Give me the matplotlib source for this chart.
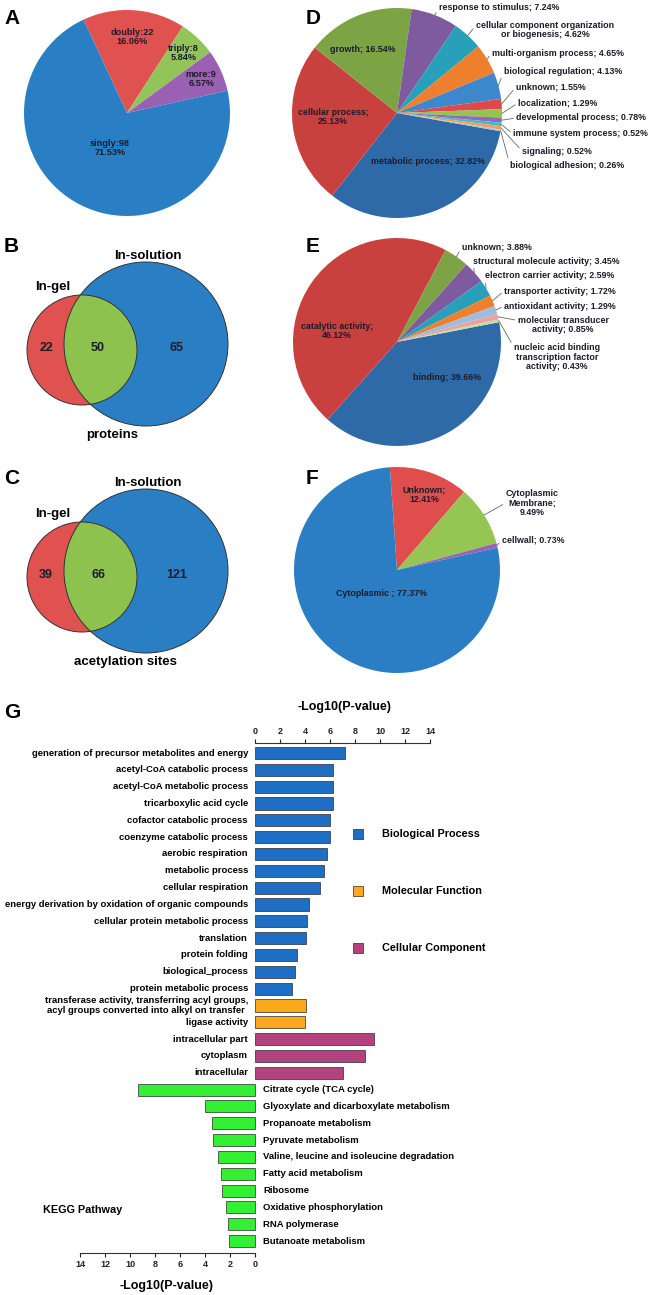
"""Acetylome overview figure: charge-state pie, in-gel vs in-solution Venns,
GO pies (BP / MF / CC) and the GO + KEGG enrichment bar chart."""
import numpy as np
import matplotlib
matplotlib.use("Agg")
import matplotlib.pyplot as plt
from matplotlib.patches import Circle

plt.rcParams["font.family"] = ["Liberation Sans", "DejaVu Sans"]
plt.rcParams["font.weight"] = "bold"

W, H = 650, 1295

# ---- data -----------------------------------------------------------------
A_NAMES = ["doubly", "triply", "more", "singly"]
A_COUNTS = [22, 8, 9, 98]
A_PCT = [16.06, 5.84, 6.57, 71.53]

VENN_PROTEINS = [22, 50, 65]     # in-gel only, both, in-solution only
VENN_SITES = [39, 66, 121]

D_NAMES = ["metabolic process", "cellular process", "growth", "response to stimulus",
           "cellular component organization\nor biogenesis", "multi-organism process",
           "biological regulation", "unknown", "localization", "developmental process",
           "immune system process", "signaling", "biological adhesion"]
D_PCT = [32.82, 25.13, 16.54, 7.24, 4.62, 4.65, 4.13, 1.55, 1.29, 0.78, 0.52, 0.52, 0.26]

E_NAMES = ["binding", "catalytic activity", "unknown", "structural molecule activity",
           "electron carrier activity", "transporter activity", "antioxidant activity",
           "molecular transducer\nactivity",
           "nucleic acid binding\ntranscription factor\nactivity"]
E_PCT = [39.66, 46.12, 3.88, 3.45, 2.59, 1.72, 1.29, 0.85, 0.43]

F_NAMES = ["Unknown", "Cytoplasmic\nMembrane", "cellwall", "Cytoplasmic "]
F_PCT = [12.41, 9.49, 0.73, 77.37]

GO_TERMS = ["generation of precursor metabolites and energy", "acetyl-CoA catabolic process",
            "acetyl-CoA metabolic process", "tricarboxylic acid cycle",
            "cofactor catabolic process", "coenzyme catabolic process", "aerobic respiration",
            "metabolic process", "cellular respiration",
            "energy derivation by oxidation of organic compounds",
            "cellular protein metabolic process", "translation", "protein folding",
            "biological_process", "protein metabolic process",
            "transferase activity, transferring acyl groups,\nacyl groups converted into alkyl on transfer",
            "ligase activity", "intracellular part", "cytoplasm", "intracellular"]
GO_VALUES = [7.17, 6.24, 6.24, 6.24, 6.0, 6.0, 5.79, 5.52, 5.17, 4.32, 4.13, 4.05,
             3.39, 3.23, 2.99, 4.05, 4.0, 9.55, 8.83, 7.01]
GO_CLASS = ["BP"] * 15 + ["MF"] * 2 + ["CC"] * 3

KEGG_TERMS = ["Citrate cycle (TCA cycle)", "Glyoxylate and dicarboxylate metabolism",
              "Propanoate metabolism", "Pyruvate metabolism",
              "Valine, leucine and isoleucine degradation", "Fatty acid metabolism",
              "Ribosome", "Oxidative phosphorylation", "RNA polymerase",
              "Butanoate metabolism"]
KEGG_VALUES = [9.33, 3.97, 3.44, 3.36, 2.99, 2.72, 2.64, 2.32, 2.16, 2.05]

# ---- styling ----------------------------------------------------------------
A_COLORS = ["#E0524F", "#93C45A", "#9A60B4", "#2A7FC4"]
D_COLORS = ["#2F6AA8", "#C9413F", "#7CA445", "#7E5A9E", "#29A0BA", "#EE7F2D", "#3D87CC",
            "#E0494B", "#93C44F", "#8E6CB7", "#4BB5CB", "#F5A04E", "#A9C3E3"]
E_COLORS = ["#2F6AA8", "#C9413F", "#7CA445", "#7E5A9E", "#29A0BA", "#EE7F2D", "#9DBCE0",
            "#E8A2A0", "#C5DC9E"]
F_COLORS = ["#E04D4D", "#95C653", "#9A62B5", "#2B7EC3"]
CLASS_COLORS = {"BP": "#1F6EC6", "MF": "#FBA81A", "CC": "#B3437E"}
KEGG_COLOR = "#33F033"
TXT = "#1c1c2a"
RED, BLUE, GREEN = "#E0524F", "#2A7FC4", "#8DC24F"


def fp(x, y):
    """pixel -> figure fraction"""
    return x / W, 1 - y / H


fig = plt.figure(figsize=(W / 100, H / 100), dpi=100, facecolor="white")
canvas = fig.add_axes([0, 0, 1, 1])
canvas.set_xlim(0, W)
canvas.set_ylim(H, 0)
canvas.axis("off")

for letter, (x, y) in zip("ABCDEFG", [(4, 18), (4, 246), (4, 478), (306, 18),
                                      (306, 246), (306, 478), (4, 712)]):
    canvas.text(x, y, letter, fontsize=15, fontweight="bold", va="center", ha="left")


def pie_axes(cx, cy, r):
    ax = fig.add_axes([(cx - r) / W, 1 - (cy + r) / H, 2 * r / W, 2 * r / H])
    return ax


def finish(ax):
    ax.set_xlim(-1, 1)
    ax.set_ylim(-1, 1)
    ax.set_aspect("equal")
    ax.axis("off")


def mid_point(w, rad=1.0):
    ang = np.deg2rad((w.theta1 + w.theta2) / 2)
    return rad * np.cos(ang), rad * np.sin(ang)


# ---- A: charge state pie ------------------------------------------------
axA = pie_axes(127, 113, 103)
wedges, _ = axA.pie(A_PCT, colors=A_COLORS, startangle=115, counterclock=False,
                    wedgeprops=dict(linewidth=0))
finish(axA)
for w, name, n, p, d in zip(wedges, A_NAMES, A_COUNTS, A_PCT, [0.74, 0.8, 0.79, 0.38]):
    x, y = mid_point(w, d)
    axA.text(x, y, f"{name}:{n}\n{p:.2f}%", ha="center", va="center", fontsize=6.6,
             color=TXT, linespacing=1.0)


# ---- B / C: Venn diagrams ----------------------------------------------
def venn(cy, counts, bottom_label, bottom_x):
    red = (82, cy + 6)
    blue = (146, cy)
    canvas.add_patch(Circle(red, 55, fc=RED, ec="none"))
    canvas.add_patch(Circle(blue, 82, fc=BLUE, ec="none"))
    clip = Circle(blue, 82, transform=canvas.transData)
    g = Circle(red, 55, fc=GREEN, ec="none")
    canvas.add_patch(g)
    g.set_clip_path(clip)
    canvas.add_patch(Circle(red, 55, fill=False, ec="#333333", lw=0.7))
    canvas.add_patch(Circle(blue, 82, fill=False, ec="#333333", lw=0.7))
    for x, n in zip([46, 98, 177], counts):
        canvas.text(x, cy + 4, str(n), ha="center", va="center", fontsize=9, color=TXT)
    canvas.text(53, cy - 57, "In-gel", ha="center", va="center", fontsize=9.5)
    canvas.text(148, cy - 88, "In-solution", ha="center", va="center", fontsize=9.5)
    canvas.text(bottom_x, cy + 91, bottom_label, ha="center", va="center", fontsize=9.5)


venn(344, VENN_PROTEINS, "proteins", 112)
venn(571, VENN_SITES, "acetylation sites", 125)


# ---- D / E / F: GO pies with labels -----------------------------------
def go_pie(cx, cy, r, pct, colors, start, labels, layout):
    ax = pie_axes(cx, cy, r)
    wedges, _ = ax.pie(pct, colors=colors, startangle=start, counterclock=False,
                       wedgeprops=dict(linewidth=0))
    finish(ax)
    for w, text, (x, y, ha, leader, rel) in zip(wedges, labels, layout):
        if leader:
            ax.annotate(text, xy=mid_point(w, 1.0), xycoords="data",
                        xytext=fp(x, y), textcoords="figure fraction",
                        ha=ha, va="center", fontsize=6.4, color=TXT, linespacing=1.05,
                        multialignment="center",
                        arrowprops=dict(arrowstyle="-", color="#666666", lw=0.6,
                                        shrinkA=0, shrinkB=0, relpos=(0, rel)))
        else:
            fig.text(*fp(x, y), text, ha=ha, va="center", fontsize=6.4, color=TXT,
                     linespacing=1.05, multialignment="center")


d_labels = [f"{n}; {p:.2f}%" for n, p in zip(D_NAMES, D_PCT)]
d_labels[1] = f"{D_NAMES[1]};\n{D_PCT[1]:.2f}%"
d_layout = [(428, 161, "center", False, 0.5), (333, 117, "center", False, 0.5),
            (363, 50, "center", False, 0.5), (439, 8, "left", True, 0.5),
            (545, 30, "center", True, 0.75), (492, 53, "left", True, 0.5),
            (504, 71, "left", True, 0.5), (516, 87, "left", True, 0.5),
            (518, 103, "left", True, 0.5), (516, 118, "left", True, 0.5),
            (513, 134, "left", True, 0.5), (522, 151, "left", True, 0.5),
            (510, 165, "left", True, 0.5)]
go_pie(397, 113, 105, D_PCT, D_COLORS, -10, d_labels, d_layout)

e_labels = [f"{n}; {p:.2f}%" for n, p in zip(E_NAMES, E_PCT)]
e_labels[1] = f"{E_NAMES[1]};\n{E_PCT[1]:.2f}%"
e_layout = [(447, 378, "center", False, 0.5), (337, 331, "center", False, 0.5),
            (462, 247, "left", True, 0.5), (473, 261, "left", True, 0.5),
            (485, 276, "left", True, 0.5), (504, 291, "left", True, 0.5),
            (504, 306, "left", True, 0.5), (563, 325, "center", True, 0.75),
            (557, 357, "center", True, 0.85)]
go_pie(397, 342, 104, E_PCT, E_COLORS, 11, e_labels, e_layout)

f_labels = [f"{F_NAMES[0]};\n{F_PCT[0]:.2f}%", f"{F_NAMES[1]};\n{F_PCT[1]:.2f}%",
            f"{F_NAMES[2]}; {F_PCT[2]:.2f}%", f"{F_NAMES[3]}; {F_PCT[3]:.2f}%"]
f_layout = [(424, 495, "center", False, 0.5), (532, 503, "center", True, 0.5),
            (502, 540, "left", True, 0.5), (382, 593, "center", False, 0.5)]
go_pie(397, 570, 103, F_PCT, F_COLORS, 94, f_labels, f_layout)

# ---- G: GO / KEGG enrichment bars ------------------------------------
X0, SCALE = 255, 12.5          # zero position (px) and px per unit
ROW0, STEP = 753, 16.83
left_px = X0 - 15 * SCALE
top_px = ROW0 - 0.6 * STEP
bot_px = ROW0 + 29.7 * STEP
axG = fig.add_axes([left_px / W, 1 - bot_px / H, 30 * SCALE / W, (bot_px - top_px) / H])
axG.patch.set_visible(False)

n_go = len(GO_TERMS)
go_y = np.arange(n_go)
kegg_y = np.arange(n_go, n_go + len(KEGG_TERMS))
axG.barh(go_y, GO_VALUES, height=0.72, color=[CLASS_COLORS[c] for c in GO_CLASS],
         edgecolor="#2b2b2b", linewidth=0.5)
axG.barh(kegg_y, -np.array(KEGG_VALUES), height=0.72, color=KEGG_COLOR,
         edgecolor="#2b2b2b", linewidth=0.5)
axG.set_xlim(-15, 15)
axG.set_ylim(29.7, -0.6)

for y, t in zip(go_y, GO_TERMS):
    axG.text(-0.56, y, t, ha="right", va="center", fontsize=6.8, multialignment="center",
             linespacing=1.15)
for y, t in zip(kegg_y, KEGG_TERMS):
    axG.text(0.64, y, t, ha="left", va="center", fontsize=6.8)

for s in ["top", "left", "right"]:
    axG.spines[s].set_visible(False)
axG.spines["bottom"].set_bounds(-14, 0)
axG.spines["bottom"].set_color("#333333")
axG.set_yticks([])
axG.set_xticks(np.arange(-14, 1, 2))
axG.set_xticklabels([str(abs(v)) for v in range(-14, 1, 2)])
axG.tick_params(axis="x", labelsize=6.5, length=3, width=0.8, pad=2, colors="#222222")

axT = axG.twiny()
axT.set_xlim(-15, 15)
for s in ["bottom", "left", "right"]:
    axT.spines[s].set_visible(False)
axT.spines["top"].set_bounds(0, 14)
axT.spines["top"].set_color("#333333")
axT.set_xticks(np.arange(0, 15, 2))
axT.tick_params(axis="x", labelsize=6.5, length=3, width=0.8, pad=2, colors="#222222")

canvas.text(345, 707, "-Log10(P-value)", ha="center", va="center", fontsize=9)
canvas.text(166, 1286, "-Log10(P-value)", ha="center", va="center", fontsize=9)
canvas.text(43, 1210, "KEGG Pathway", ha="left", va="center", fontsize=7.8)

for cls, name, y in zip(["BP", "MF", "CC"],
                        ["Biological Process", "Molecular Function", "Cellular Component"],
                        [834, 891, 948]):
    canvas.scatter([358], [y], s=62, marker="s", color=CLASS_COLORS[cls],
                   edgecolor="#2b2b2b", linewidth=0.5)
    canvas.text(382, y, name, ha="left", va="center", fontsize=7.8)

fig.savefig("out.png", dpi=100, facecolor="white")
